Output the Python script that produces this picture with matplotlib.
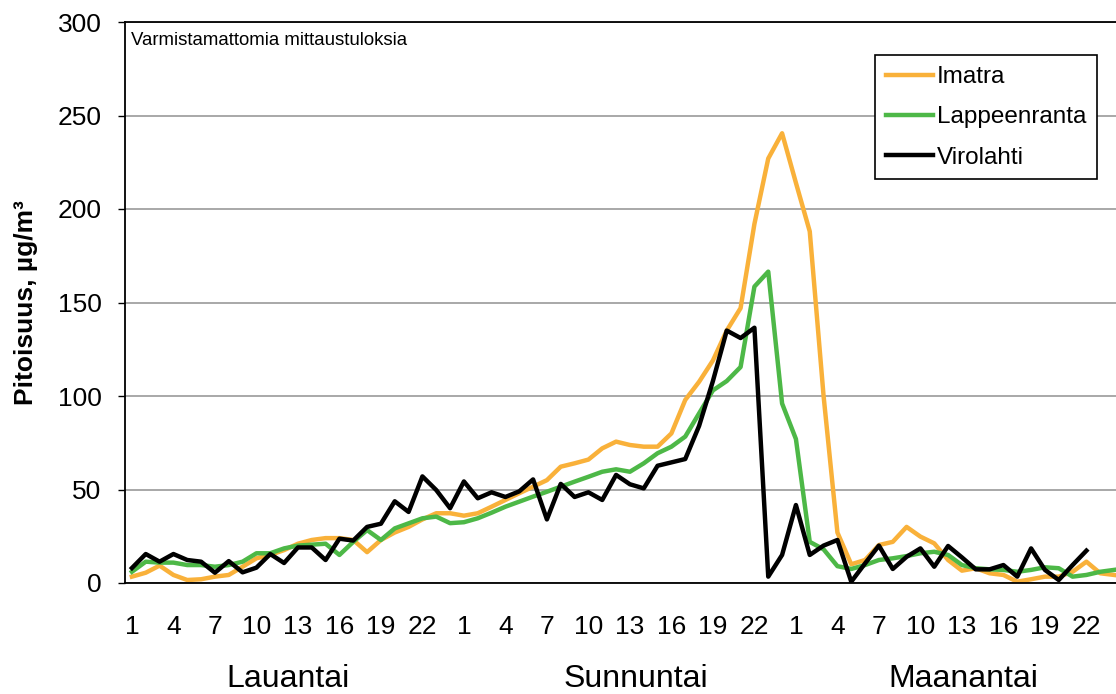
import numpy as np
import matplotlib
matplotlib.use('Agg')
import matplotlib.pyplot as plt
import matplotlib.transforms as mtransforms

plt.rcParams['font.family'] = ['Liberation Sans', 'DejaVu Sans']

# hourly values, three days (Saturday..Monday), 24 h each
hours = list(range(1, 25)) * 3
days = ['Lauantai', 'Sunnuntai', 'Maanantai']

imatra = [3.4, 5.5, 9.3, 4.3, 1.6, 2, 3.4, 4.3, 8.7, 13.2, 15, 17.6,
          21, 23, 24, 24, 23, 16.5, 23, 27, 30, 34, 37.3, 37.3,
          36, 37.3, 40.8, 44.4, 48, 51.5, 55, 62.2, 64, 66, 72, 75.6,
          73.8, 72.9, 72.9, 80, 97.9, 107.6, 119, 135, 147, 192, 227, 240.5,
          214, 188, 100, 27, 10, 12.3, 20.3, 22, 30, 24.8, 21.2, 12.3,
          6.6, 7.9, 5.2, 4.3, 0.7, 2, 3.4, 3.4, 6, 11.4, 5.2, 4.3]

lappeenranta = [6, 11.4, 10.9, 10.9, 9.6, 9.6, 8.7, 9.6, 11.4, 15.9, 15.9, 18.5,
                20, 20.5, 21, 15, 22, 28.3, 23, 29.2, 31.9, 34.6, 35.5, 32,
                32.5, 34.6, 37.6, 40.8, 43.5, 46.2, 48.8, 51.5, 54.2, 56.8, 59.5, 60.8,
                59.5, 64, 69.4, 72.9, 78.3, 90.7, 103, 108, 115.5, 158.5, 166.5, 96,
                77, 22, 18, 9, 7.5, 9.6, 12.3, 13.2, 14.4, 15.9, 16.7, 15,
                9.6, 7.9, 7.3, 7, 6, 7, 8.4, 7.9, 3.4, 4.3, 6, 7]

virolahti = [8, 15.5, 11.4, 15.5, 12.3, 11.4, 5.5, 11.7, 5.7, 8.2, 15.5, 10.7,
             19, 19, 12.3, 23.7, 22.7, 30, 31.7, 43.7, 38, 57, 49.7, 40,
             54.3, 45.3, 48.5, 46, 49, 55.4, 34, 53, 46, 48.5, 44.4, 57.8,
             52.8, 50.6, 62.7, 64.5, 66.3, 84, 108, 135, 131, 136.5, 3.4, 15,
             41.7, 15, 20, 23, 0.7, 10.5, 20, 7.5, 14, 18.5, 8.7, 19.8,
             13.7, 7.3, 7.3, 9.6, 3.4, 18.5, 7, 1.6, 9.6, 17.3, np.nan, np.nan]

x = np.arange(len(hours))

fig = plt.figure(figsize=(11.16, 6.94), dpi=100)
# right edge of the plot area runs slightly past the image, as in the original
ax = fig.add_axes([125 / 1116, 111 / 694, 996 / 1116, 561 / 694])

ax.plot(x, imatra, color='#F9B13A', lw=3.2, label='Imatra')
ax.plot(x, lappeenranta, color='#4DB847', lw=3.2, label='Lappeenranta')
ax.plot(x, virolahti, color='black', lw=3.2, label='Virolahti')

ax.set_xlim(-0.5, len(hours) - 0.5)
ax.set_ylim(0, 300)
ax.set_yticks(range(0, 301, 50))
ax.set_xticks(x[::3])
ax.set_xticklabels([str(h) for h in hours[::3]])
ax.tick_params(axis='x', length=0, pad=23, labelsize=19)
ax.tick_params(axis='y', length=5, width=1, direction='out', pad=12, labelsize=19)

ax.yaxis.grid(True, color='#9A9A9A', lw=1.2)
ax.set_axisbelow(True)
for s in ['left', 'bottom', 'top']:
    ax.spines[s].set_color('black')
    ax.spines[s].set_linewidth(1.3)
ax.spines['right'].set_visible(False)

ax.set_ylabel('Pitoisuus, µg/m³', fontsize=19, fontweight='bold')
ax.yaxis.set_label_coords(-0.087, 0.5)

trans = mtransforms.blended_transform_factory(ax.transData, ax.transAxes)
day_pos = [11.3, 36.4, 60.1]
for d, p in zip(days, day_pos):
    ax.text(p, -0.186, d, transform=trans, ha='center', va='baseline', fontsize=23)

ax.text(0.006, 0.982, 'Varmistamattomia mittaustuloksia', transform=ax.transAxes,
        ha='left', va='top', fontsize=13.4)

leg = ax.legend(loc='upper right', bbox_to_anchor=(0.976, 0.941), borderaxespad=0,
                fontsize=17.5, frameon=True, fancybox=False, framealpha=1,
                edgecolor='black', handlelength=1.95, handletextpad=0.15,
                labelspacing=0.75, borderpad=0.45)
leg.get_frame().set_linewidth(1.2)

fig.savefig('out.png', dpi=100)
